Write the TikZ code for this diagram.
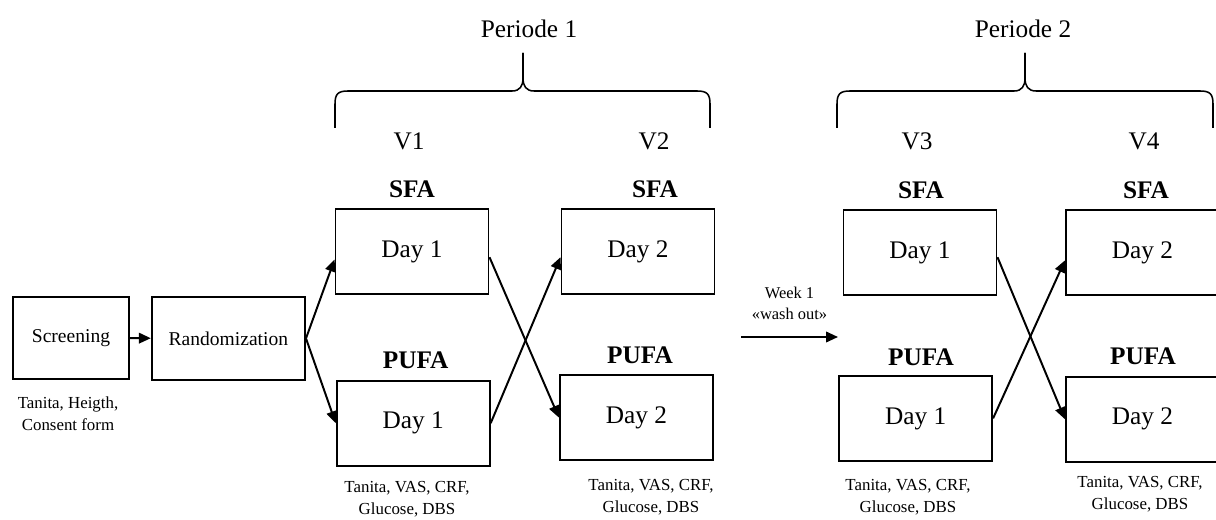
\documentclass[tikz,border=0pt]{standalone}
\usepackage{fontspec}
\setmainfont{Liberation Serif}
\usepackage{tikz}
\usetikzlibrary{arrows.meta,positioning,calc}
\tikzset{
	daybox/.style={draw, line width=1.4pt, minimum width=3.825cm, minimum height=2.125cm, inner sep=0pt, font=\fontsize{18}{20}\selectfont},
	stepbox/.style={draw, line width=1.4pt, minimum height=2.06cm, inner sep=0pt, font=\fontsize{13.9}{16}\selectfont},
	diet/.style={font=\fontsize{18}{20}\selectfont\bfseries},
	visit/.style={font=\fontsize{18}{20}\selectfont},
	measure/.style={align=center, font=\fontsize{12}{15.6}\selectfont},
	link/.style={->, line width=1.4pt, >={Triangle[length=8.5pt,width=7.5pt]}},
	period/.style={line width=1.1pt}
}

\begin{document}
\begin{tikzpicture}
			\useasboundingbox (0,0) rectangle (30.4,-13);
			\node[stepbox, minimum width=2.9cm] (scr) at (1.775,-8.45) {Screening};
			\node[stepbox, minimum width=3.83cm] (rand) at (5.71,-8.46) {Randomization};
			\node[daybox] (s1) at (10.3,-6.29) {Day 1};
			\node[daybox] (p1) at (10.33,-10.58) {Day 1};
			\node[daybox] (s2) at (15.95,-6.29) {Day 2};
			\node[daybox] (p2) at (15.91,-10.44) {Day 2};
			\node[daybox] (s3) at (23.0,-6.31) {Day 1};
			\node[daybox] (p3) at (22.89,-10.46) {Day 1};
			\node[daybox] (s4) at (28.56,-6.31) {Day 2};
			\node[daybox] (p4) at (28.56,-10.48) {Day 2};
			
			\node[diet] (ls1) at (10.3,-4.725) {SFA};
			\node[diet] (ls2) at (16.375,-4.725) {SFA};
			\node[diet] (ls3) at (23.025,-4.75) {SFA};
			\node[diet] (ls4) at (28.65,-4.75) {SFA};
			\node[diet] (lp1) at (10.39,-9.0) {PUFA};
			\node[diet] (lp2) at (16.0,-8.875) {PUFA};
			\node[diet] (lp3) at (23.025,-8.925) {PUFA};
			\node[diet] (lp4) at (28.575,-8.9) {PUFA};
			
			\node[visit] (v1) at (10.225,-3.54) {V1};
			\node[visit] (v2) at (16.35,-3.54) {V2};
			\node[visit] (v3) at (22.925,-3.54) {V3};
			\node[visit] (v4) at (28.6,-3.54) {V4};
			\node[visit] (per1) at (13.225,-0.725) {Periode 1};
			\node[visit] (per2) at (25.575,-0.725) {Periode 2};
			
			\node[measure] (m0) at (1.7,-10.35) {Tanita, Heigth,\\Consent form};
			\node[measure] (m1) at (10.175,-12.475) {Tanita, VAS, CRF,\\Glucose, DBS};
			\node[measure] (m2) at (16.275,-12.425) {Tanita, VAS, CRF,\\Glucose, DBS};
			\node[measure] (m3) at (22.7,-12.425) {Tanita, VAS, CRF,\\Glucose, DBS};
			\node[measure] (m4) at (28.5,-12.35) {Tanita, VAS, CRF,\\Glucose, DBS};
			
			\coordinate (w1) at (18.525,-8.425);
			\coordinate (w2) at (20.95,-8.425);
			
			% braces over the two periods
			\draw[period] (8.375,-3.2) -- (8.375,-2.6) .. controls (8.375,-2.35) and (8.45,-2.275) .. (8.7,-2.275) -- (12.8,-2.275) .. controls (13.0,-2.275) and (13.075,-2.15) .. (13.075,-1.95) -- (13.075,-1.325);
			\draw[period] (17.75,-3.2) -- (17.75,-2.6) .. controls (17.75,-2.35) and (17.675,-2.275) .. (17.425,-2.275) -- (13.35,-2.275) .. controls (13.15,-2.275) and (13.075,-2.15) .. (13.075,-1.95) -- (13.075,-1.325);
			\draw[period] (20.925,-3.2) -- (20.925,-2.6) .. controls (20.925,-2.35) and (21.0,-2.275) .. (21.25,-2.275) -- (25.35,-2.275) .. controls (25.55,-2.275) and (25.625,-2.15) .. (25.625,-1.95) -- (25.625,-1.325);
			\draw[period] (30.325,-3.2) -- (30.325,-2.6) .. controls (30.325,-2.35) and (30.25,-2.275) .. (30.0,-2.275) -- (25.9,-2.275) .. controls (25.7,-2.275) and (25.625,-2.15) .. (25.625,-1.95) -- (25.625,-1.325);
			
			\path[link] (scr) edge (rand);
			\path[link] (rand.east) edge ([yshift=-0.2cm]s1.west);
			\path[link] (rand.east) edge (p1.west);
			\path[link] ([yshift=-0.14cm]s1.east) edge (p2.west);
			\path[link] (p1.east) edge ([yshift=-0.14cm]s2.west);
			\path[link] (w1) edge node[above=8pt, measure, font=\fontsize{11.7}{15}\selectfont] {Week 1\\«wash out»} (w2);
			\path[link] ([yshift=-0.12cm]s3.east) edge (p4.west);
			\path[link] (p3.east) edge ([yshift=-0.2cm]s4.west);
		\end{tikzpicture}
\end{document}
